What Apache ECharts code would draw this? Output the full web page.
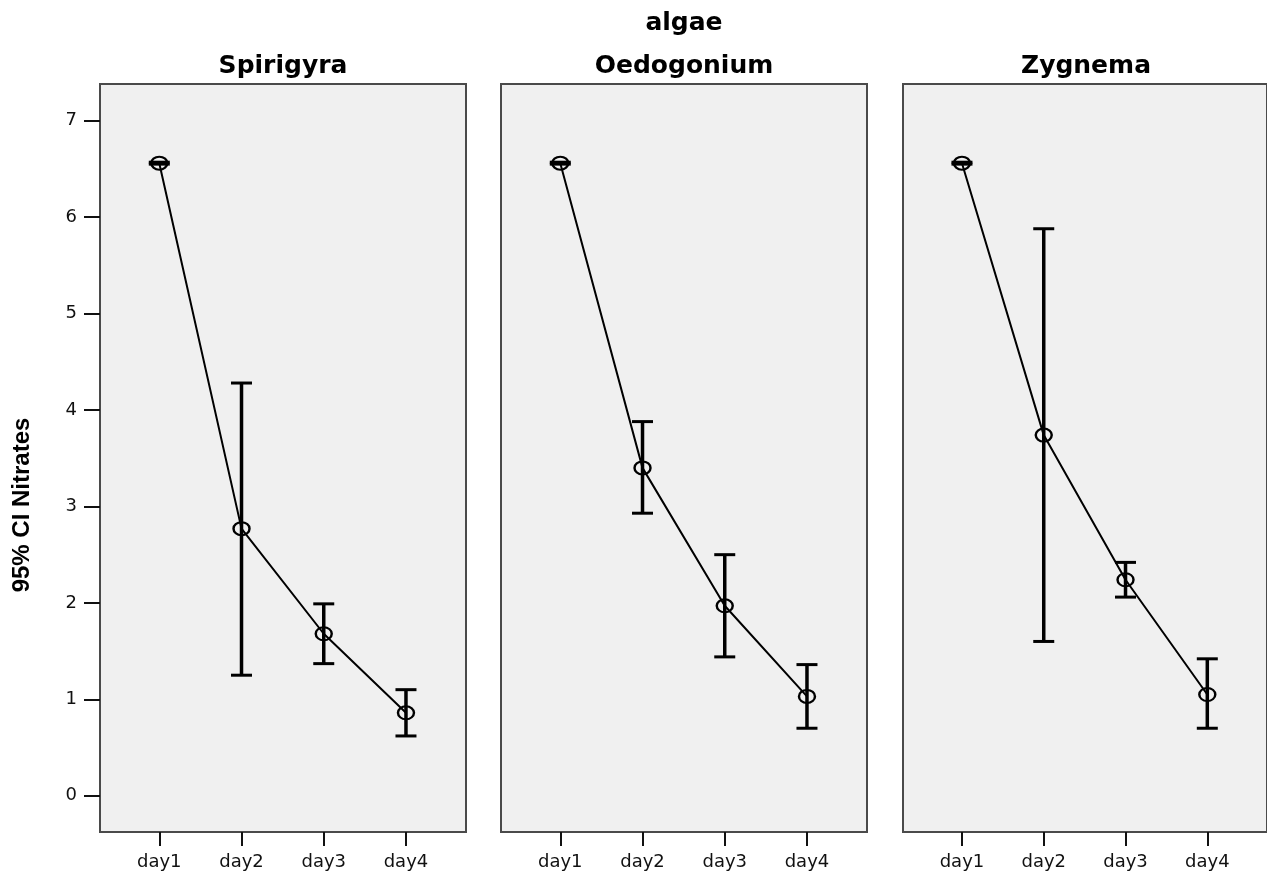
<!DOCTYPE html>
<html>
<head>
<meta charset="utf-8">
<script src="https://cdn.jsdelivr.net/npm/echarts@6/dist/echarts.min.js"></script>
<style>
html,body{margin:0;padding:0;background:#fff;}
#chart{width:1267px;height:874px;}
</style>
</head>
<body>
<div id="chart"></div>
<script>
const days = ['day1', 'day2', 'day3', 'day4'];
const panelNames = ['Spirigyra', 'Oedogonium', 'Zygnema'];
const yTicks = [0, 1, 2, 3, 4, 5, 6, 7];

const spirigyraMean = [6.56, 2.77, 1.68, 0.86];
const spirigyraLow  = [6.55, 1.25, 1.37, 0.62];
const spirigyraHigh = [6.57, 4.28, 1.99, 1.10];

const oedogoniumMean = [6.56, 3.40, 1.97, 1.03];
const oedogoniumLow  = [6.55, 2.93, 1.44, 0.70];
const oedogoniumHigh = [6.57, 3.88, 2.50, 1.36];

const zygnemaMean = [6.56, 3.74, 2.24, 1.05];
const zygnemaLow  = [6.55, 1.60, 2.06, 0.70];
const zygnemaHigh = [6.57, 5.88, 2.42, 1.42];

const means = [spirigyraMean, oedogoniumMean, zygnemaMean];
const lows = [spirigyraLow, oedogoniumLow, zygnemaLow];
const highs = [spirigyraHigh, oedogoniumHigh, zygnemaHigh];

const chart = echarts.init(document.getElementById('chart'));

const gridLefts = [100, 501, 903];
const gridW = 366, gridTop = 84, gridH = 748;
const dayX = days.map((d, i) => i + 1);

const grids = [], xAxes = [], yAxes = [], series = [], graphics = [];

gridLefts.forEach((left, k) => {
  grids.push({
    left: left, top: gridTop, width: gridW, height: gridH,
    show: true, backgroundColor: '#f0f0f0', borderColor: '#4a4a4a', borderWidth: 2
  });
  xAxes.push({
    type: 'value', gridIndex: k, min: 0.279, max: 4.73, position: 'bottom',
    axisLine: { show: false, onZero: false },
    splitLine: { show: false },
    axisTick: { show: true, inside: false, length: 14, customValues: dayX,
      lineStyle: { color: '#111', width: 2 } },
    axisLabel: { show: true, margin: 21, customValues: dayX,
      formatter: v => days[Math.round(v) - 1] || '',
      fontFamily: 'DejaVu Sans', fontSize: 18, color: '#111' }
  });
  yAxes.push({
    type: 'value', gridIndex: k, min: -0.376, max: 7.381,
    axisLine: { show: false, onZero: false },
    splitLine: { show: false },
    axisTick: { show: k === 0, inside: false, length: 16, customValues: yTicks,
      lineStyle: { color: '#111', width: 2 } },
    axisLabel: { show: k === 0, margin: 23, customValues: yTicks,
      fontFamily: 'DejaVu Sans', fontSize: 18, color: '#111' }
  });
  series.push({
    type: 'custom', xAxisIndex: k, yAxisIndex: k, z: 2,
    data: dayX.map((x, i) => [x, lows[k][i], highs[k][i]]),
    encode: { x: 0, y: [1, 2] },
    renderItem: function (params, api) {
      const x = api.value(0);
      const pLo = api.coord([x, api.value(1)]);
      const pHi = api.coord([x, api.value(2)]);
      const hw = 10.5;
      return {
        type: 'group',
        children: [
          { type: 'line', shape: { x1: pLo[0], y1: pLo[1], x2: pHi[0], y2: pHi[1] },
            style: { stroke: '#000', lineWidth: 3.5 } },
          { type: 'line', shape: { x1: pLo[0] - hw, y1: pLo[1], x2: pLo[0] + hw, y2: pLo[1] },
            style: { stroke: '#000', lineWidth: 3 } },
          { type: 'line', shape: { x1: pHi[0] - hw, y1: pHi[1], x2: pHi[0] + hw, y2: pHi[1] },
            style: { stroke: '#000', lineWidth: 3 } }
        ]
      };
    }
  });
  series.push({
    type: 'line', xAxisIndex: k, yAxisIndex: k, z: 3,
    data: dayX.map((x, i) => [x, means[k][i]]),
    symbol: 'circle', symbolSize: [16, 13], showSymbol: true,
    lineStyle: { color: '#000', width: 2 },
    itemStyle: { color: 'rgba(0,0,0,0)', borderColor: '#000', borderWidth: 2.2 },
    emphasis: { disabled: true },
    animation: false
  });
  graphics.push({
    type: 'text', x: left + gridW / 2, y: 66,
    style: { text: panelNames[k], font: 'bold 25px "DejaVu Sans"', fill: '#000',
      align: 'center', verticalAlign: 'middle' }
  });
});

graphics.push({
  type: 'text', x: 684, y: 23,
  style: { text: 'algae', font: 'bold 25px "DejaVu Sans"', fill: '#000',
    align: 'center', verticalAlign: 'middle' }
});
graphics.push({
  type: 'text', x: 22, y: 505, rotation: Math.PI / 2,
  style: { text: '95% CI Nitrates', font: 'bold 24px "Liberation Sans"', fill: '#000',
    align: 'center', verticalAlign: 'middle' }
});

chart.setOption({
  animation: false,
  backgroundColor: '#ffffff',
  grid: grids,
  xAxis: xAxes,
  yAxis: yAxes,
  series: series,
  graphic: graphics
});
</script>
</body>
</html>
